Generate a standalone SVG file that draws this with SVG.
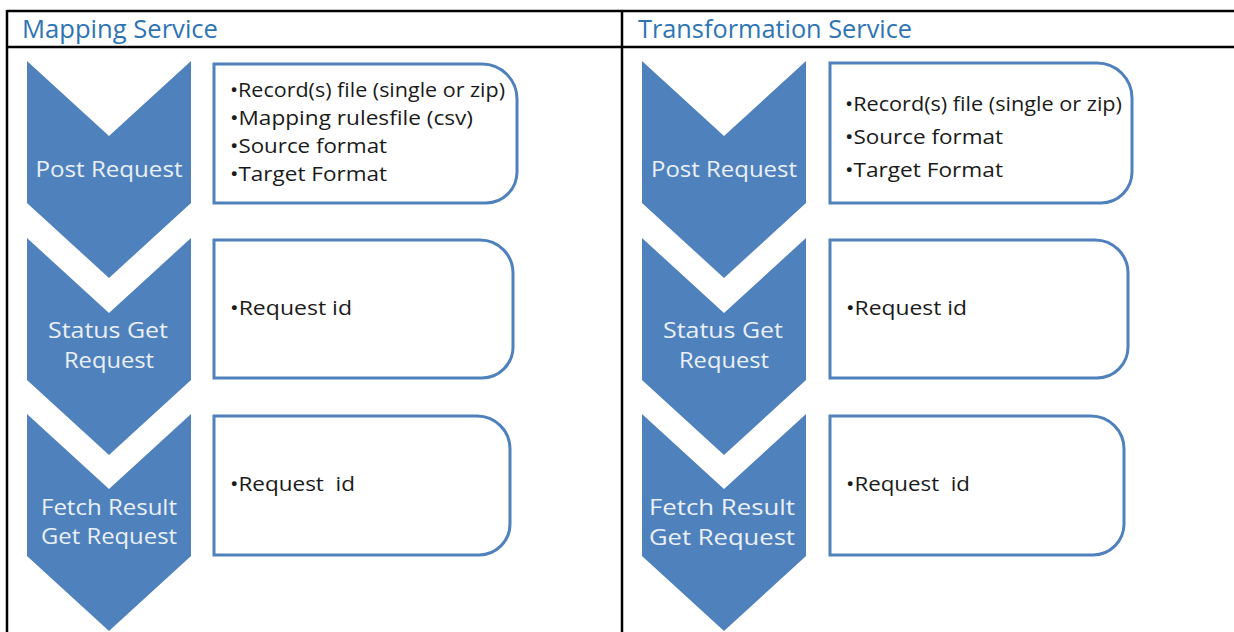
<svg xmlns="http://www.w3.org/2000/svg" width="1234" height="632" viewBox="0 0 1234 632">
<style>
.grid{stroke:#000;stroke-width:2.5;fill:none}
.hdr{font-family:"Open Sans","Liberation Sans",sans-serif;font-size:25px;fill:#2E74B5}
.chev{fill:#4F81BD}
.ct{font-family:"Open Sans","Liberation Sans",sans-serif;font-size:21.5px;fill:#EAF0F8;text-anchor:middle}
.box{fill:#fff;stroke:#4F81BD;stroke-width:3}
.bt{font-family:"Open Sans","Liberation Sans",sans-serif;font-size:19.5px;fill:#1a1a1a}
</style>
<rect width="1234" height="632" fill="#fff"/>
<g id="table">
<line class="grid" x1="7" y1="11" x2="1234" y2="11"/>
<line class="grid" x1="7" y1="47" x2="1234" y2="47"/>
<line class="grid" x1="7" y1="10" x2="7" y2="632"/>
<line class="grid" x1="622" y1="10" x2="622" y2="632"/>
<text class="hdr" x="22" y="38" textLength="196" lengthAdjust="spacingAndGlyphs">Mapping Service</text>
<text class="hdr" x="638" y="38" textLength="274" lengthAdjust="spacingAndGlyphs">Transformation Service</text>
</g>
<g id="connectors"></g>
<!-- Left column -->
<g id="m-post">
<path class="chev" d="M27 61 L109 136 L191 61 L191 203 L109 278 L27 203 Z"/>
<text class="ct" x="109" y="177" textLength="147" lengthAdjust="spacingAndGlyphs">Post Request</text>
</g>
<g id="m-status">
<path class="chev" d="M27 238 L109 313 L191 238 L191 380 L109 455 L27 380 Z"/>
<text class="ct" x="108" y="338" textLength="120" lengthAdjust="spacingAndGlyphs">Status Get</text>
<text class="ct" x="109" y="368" textLength="90" lengthAdjust="spacingAndGlyphs">Request</text>
</g>
<g id="m-fetch">
<path class="chev" d="M27 414 L109 489 L191 414 L191 556 L109 631 L27 556 Z"/>
<text class="ct" x="109" y="515" textLength="136" lengthAdjust="spacingAndGlyphs">Fetch Result</text>
<text class="ct" x="109" y="544" textLength="136" lengthAdjust="spacingAndGlyphs">Get Request</text>
</g>
<g id="m-box1">
<path class="box" d="M214 64 H482 A35 35 0 0 1 517 99 V172 A31 31 0 0 1 486 203 H214 Z"/>
<text class="bt" x="230" y="97" textLength="275" lengthAdjust="spacingAndGlyphs">•Record(s) file (single or zip)</text>
<text class="bt" x="230" y="125" textLength="243" lengthAdjust="spacingAndGlyphs">•Mapping rulesfile (csv)</text>
<text class="bt" x="230" y="153" textLength="157" lengthAdjust="spacingAndGlyphs">•Source format</text>
<text class="bt" x="230" y="181" textLength="157" lengthAdjust="spacingAndGlyphs">•Target Format</text>
</g>
<g id="m-box2">
<path class="box" d="M214 240 H480 A33 33 0 0 1 513 273 V347 A31 31 0 0 1 482 378 H214 Z"/>
<text class="bt" x="230" y="315" textLength="122" lengthAdjust="spacingAndGlyphs">•Request id</text>
</g>
<g id="m-box3">
<path class="box" d="M214 416 H477 A33 33 0 0 1 510 449 V524 A31 31 0 0 1 479 555 H214 Z"/>
<text class="bt" x="230" y="491" textLength="125" lengthAdjust="spacingAndGlyphs" xml:space="preserve">•Request  id</text>
</g>
<!-- Right column -->
<g id="t-post">
<path class="chev" d="M642 61 L724 136 L806 61 L806 203 L724 278 L642 203 Z"/>
<text class="ct" x="724" y="177" textLength="146" lengthAdjust="spacingAndGlyphs">Post Request</text>
</g>
<g id="t-status">
<path class="chev" d="M642 238 L724 313 L806 238 L806 380 L724 455 L642 380 Z"/>
<text class="ct" x="723" y="338" textLength="120" lengthAdjust="spacingAndGlyphs">Status Get</text>
<text class="ct" x="724" y="368" textLength="90" lengthAdjust="spacingAndGlyphs">Request</text>
</g>
<g id="t-fetch">
<path class="chev" d="M642 414 L724 489 L806 414 L806 556 L724 631 L642 556 Z"/>
<text class="ct" x="722" y="515" textLength="146" lengthAdjust="spacingAndGlyphs">Fetch Result</text>
<text class="ct" x="722" y="545" textLength="146" lengthAdjust="spacingAndGlyphs">Get Request</text>
</g>
<g id="t-box1">
<path class="box" d="M830 63 H1097 A35 35 0 0 1 1132 98 V172 A31 31 0 0 1 1101 203 H830 Z"/>
<text class="bt" x="845" y="111" textLength="277" lengthAdjust="spacingAndGlyphs">•Record(s) file (single or zip)</text>
<text class="bt" x="845" y="144" textLength="158" lengthAdjust="spacingAndGlyphs">•Source format</text>
<text class="bt" x="845" y="177" textLength="158" lengthAdjust="spacingAndGlyphs">•Target Format</text>
</g>
<g id="t-box2">
<path class="box" d="M830 240 H1095 A33 33 0 0 1 1128 273 V347 A31 31 0 0 1 1097 378 H830 Z"/>
<text class="bt" x="846" y="315" textLength="121" lengthAdjust="spacingAndGlyphs">•Request id</text>
</g>
<g id="t-box3">
<path class="box" d="M830 416 H1091 A33 33 0 0 1 1124 449 V524 A31 31 0 0 1 1093 555 H830 Z"/>
<text class="bt" x="846" y="491" textLength="124" lengthAdjust="spacingAndGlyphs" xml:space="preserve">•Request  id</text>
</g>
</svg>
